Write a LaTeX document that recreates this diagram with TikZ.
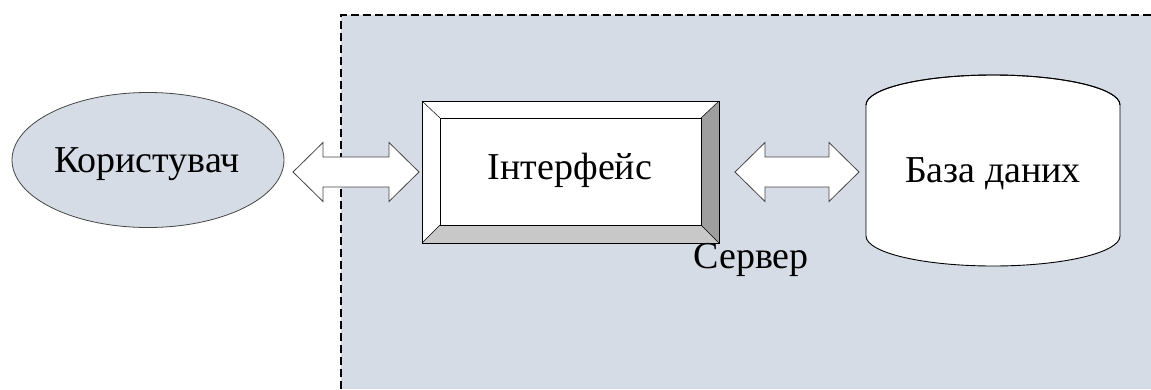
\documentclass[tikz,border=0pt]{standalone}
\usepackage{fontspec}
\setmainfont{Liberation Serif}
\usetikzlibrary{shapes.geometric}
\definecolor{zonefill}{RGB}{213,220,230}
\definecolor{bevellight}{RGB}{255,255,255}
\definecolor{bevelmid}{RGB}{200,200,200}
\definecolor{beveldark}{RGB}{158,158,158}
\definecolor{outline}{RGB}{70,70,70}
\begin{document}
\begin{tikzpicture}[x=1pt,y=-1pt,
  label/.style={font=\fontsize{38}{42}\selectfont, inner sep=0pt, anchor=base},
  zoneline/.style={line width=2pt, dash pattern=on 8pt off 4pt},
  blockarrow/.style={draw=outline, line width=0.8pt, fill=white, line join=miter},
  bevel/.style={draw=black, line width=0.8pt},
  cyl/.style={draw=black, line width=0.9pt, fill=white}]
  \useasboundingbox (0,0) rectangle (1151,389);
  \fill[white] (0,0) rectangle (1151,389);

  % server zone
  \fill[zonefill] (341,15) rectangle (1151,389);
  \draw[zoneline] (341,389) -- (341,15) -- (1151,15);

  % user ellipse
  \node[ellipse, draw=outline, line width=0.8pt, fill=zonefill,
        minimum width=272pt, minimum height=135pt, inner sep=0pt] (userbox) at (148,160) {};
  \node[label] (user) at (147,172) {Користувач};

  % bevelled interface box
  \coordinate (o1) at (422,101); \coordinate (o2) at (719,101);
  \coordinate (o3) at (719,243); \coordinate (o4) at (422,243);
  \coordinate (i1) at (440,118); \coordinate (i2) at (701,118);
  \coordinate (i3) at (701,225); \coordinate (i4) at (440,225);
  \fill[bevellight] (o1) -- (o2) -- (i2) -- (i1) -- cycle;
  \fill[bevellight] (o1) -- (i1) -- (i4) -- (o4) -- cycle;
  \fill[bevelmid] (o4) -- (i4) -- (i3) -- (o3) -- cycle;
  \fill[beveldark] (o2) -- (o3) -- (i3) -- (i2) -- cycle;
  \fill[white] (i1) rectangle (i3);
  \draw[bevel] (o1) -- (o2) -- (o3) -- (o4) -- cycle;
  \draw[bevel] (i1) -- (i2) -- (i3) -- (i4) -- cycle;
  \draw[bevel, line width=0.5pt] (o1) -- (i1) (o2) -- (i2) (o3) -- (i3) (o4) -- (i4);
  \node[label] (iface) at (570,179) {Інтерфейс};

  % database cylinder
  \draw[cyl] (866,105) -- (866,236) arc[start angle=180, end angle=360, x radius=127pt, y radius=30pt]
             -- (1120,105) arc[start angle=0, end angle=180, x radius=127pt, y radius=30pt] -- cycle;
  \draw[line width=0.9pt] (866,105) arc[start angle=180, end angle=360, x radius=127pt, y radius=-30pt];
  \node[label] (db) at (993,182) {База даних};

  % server caption
  \node[label] (server) at (751,268) {Сервер};

  % two-way block arrows
  \draw[blockarrow] (293,172) -- (323,142.5) -- (323,157) -- (389,157) -- (389,142.5) -- (419,172)
        -- (389,201.5) -- (389,187) -- (323,187) -- (323,201.5) -- cycle;
  \draw[blockarrow] (735,172) -- (765,142.5) -- (765,157) -- (829,157) -- (829,142.5) -- (859,172)
        -- (829,201.5) -- (829,187) -- (765,187) -- (765,201.5) -- cycle;
\end{tikzpicture}
\end{document}
